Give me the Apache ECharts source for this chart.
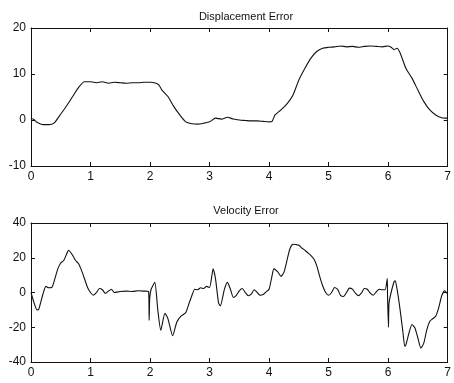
<!DOCTYPE html>
<html>
<head>
    <meta charset="utf-8">
    <title>index</title>
    <script src="https://cdn.jsdelivr.net/npm/echarts@6/dist/echarts.min.js"></script>
    <style>
        html, body { margin: 0; padding: 0; background: #fff; }
        #main { width: 454px; height: 383px; }
    </style>
</head>
<body>
<div id="main"></div>
<script>
    // time axis ticks shared by both plots
    var xTicks = [0, 1, 2, 3, 4, 5, 6, 7];

    // displacement error
    var dispT = [0, 0.05, 0.1, 0.2, 0.3, 0.35, 0.4, 0.5, 0.6, 0.7, 0.8, 0.9, 1.0, 1.1, 1.2, 1.3, 1.4, 1.5,
        1.6, 1.7, 1.8, 1.9, 2.0, 2.1, 2.15, 2.2, 2.3, 2.4, 2.5, 2.6, 2.7, 2.8, 2.9, 3.0, 3.1, 3.2,
        3.3, 3.4, 3.5, 3.6, 3.7, 3.8, 3.9, 4.0, 4.05, 4.1, 4.2, 4.3, 4.4, 4.5, 4.6, 4.7, 4.8, 4.9,
        5.0, 5.1, 5.2, 5.3, 5.4, 5.5, 5.6, 5.7, 5.8, 5.9, 6.0, 6.05, 6.1, 6.15, 6.2, 6.3, 6.4, 6.5,
        6.6, 6.7, 6.8, 6.9, 7.0];
    var dispV = [0.4, 0.1, -0.5, -1.0, -1.0, -0.9, -0.5, 1.3, 3.1, 5.1, 7.1, 8.3, 8.3, 8.1, 8.3, 8.0, 8.2, 8.1,
        8.0, 8.1, 8.1, 8.2, 8.2, 8.0, 7.6, 6.5, 5.1, 2.9, 1.1, -0.4, -0.8, -0.9, -0.7, -0.4, 0.4, 0.2,
        0.6, 0.2, 0.0, -0.1, -0.2, -0.2, -0.3, -0.4, -0.3, 1.1, 2.2, 3.5, 5.4, 8.7, 11.2, 13.4, 14.9, 15.6,
        15.8, 15.9, 16.1, 15.9, 16.0, 15.8, 16.0, 16.1, 16.0, 15.9, 16.1, 15.8, 15.3, 15.6, 14.6, 11.2, 9.1, 6.5,
        4.0, 2.2, 1.1, 0.5, 0.4];

    // velocity error
    var velT = [0, 0.05, 0.1, 0.13, 0.2, 0.25, 0.3, 0.35, 0.4, 0.45, 0.5, 0.55, 0.6, 0.63, 0.7, 0.75,
        0.8, 0.85, 0.9, 0.95, 1.0, 1.05, 1.1, 1.15, 1.2, 1.25, 1.3, 1.35, 1.4, 1.5, 1.6, 1.7, 1.8,
        1.9, 1.975, 1.985, 1.995, 2.02, 2.08, 2.13, 2.18, 2.25, 2.3, 2.38, 2.45, 2.52, 2.6, 2.65,
        2.7, 2.75, 2.8, 2.85, 2.9, 2.95, 3.0, 3.06, 3.1, 3.15, 3.18, 3.25, 3.3, 3.35, 3.4, 3.45,
        3.5, 3.55, 3.6, 3.65, 3.7, 3.75, 3.8, 3.85, 3.9, 3.95, 4.0, 4.05, 4.08, 4.15, 4.2, 4.25,
        4.3, 4.35, 4.4, 4.45, 4.5, 4.55, 4.6, 4.65, 4.7, 4.75, 4.8, 4.85, 4.9, 4.95, 5.0, 5.05,
        5.1, 5.15, 5.2, 5.25, 5.3, 5.35, 5.4, 5.45, 5.5, 5.55, 5.6, 5.65, 5.7, 5.75, 5.8, 5.85,
        5.9, 5.95, 5.985, 5.99, 6.005, 6.015, 6.05, 6.1, 6.12, 6.15, 6.2, 6.25, 6.28, 6.3, 6.35,
        6.4, 6.45, 6.5, 6.55, 6.6, 6.65, 6.7, 6.75, 6.8, 6.85, 6.9, 6.95, 7.0];
    var velV = [0, -5.8, -10, -9.7, -1, 3.5, 2.7, 2.9, 7.8, 13.6, 17, 18.4, 22.3, 24.3, 21.4, 18.4,
        16.5, 12.6, 7.8, 2.9, 0, -1.6, 0, 2.3, 1.6, -0.6, 0.8, 1.9, 0, 0.6, 0.8, 0.6, 1.0,
        0.8, 0.5, -16, -3, 2, 5.8, -10, -21.7, -12, -15, -24.9, -17, -13.6, -11.6, -6.8,
        -2, 1.9, 1.6, 2.7, 2.3, 3.5, 2.9, 13.6, 7.8, -5.8, -7.8, 1.9, 5.8, 1.9, -2.9, -1.6,
        1, 2.3, 0, -1.9, -1, 1.6, 0, -1.6, -1.2, 0.4, 1.9, 9.7, 13.6, 11.7, 9.3, 11.7,
        18.4, 25.2, 27.8, 27.6, 27.2, 25.6, 24.3, 22.9, 21.4, 19.4, 15.5, 9.3, 3.9, 0, -1.6, 0,
        2.9, 1.9, -1.6, -2.3, 0, 2.5, 1.9, -0.4, -1.9, -0.4, 2.3, 1.9, -0.4, -1.6, 0.4, 1.9,
        1.6, 1.6, 8, -2, -20, -6, 0, 6.2, 6.8, 1.9, -9.7, -23.3, -31, -30, -23.3,
        -18.4, -20.4, -26.2, -32, -29, -21.4, -16.5, -15.1, -13.6, -8.7, -1.9, 1, -1];

    var dispTicks = [-10, 0, 10, 20];
    var velTicks = [-40, -20, 0, 20, 40];

    function pairs(t, v) {
        var out = [];
        for (var i = 0; i < t.length; i++) out.push([t[i], v[i]]);
        return out;
    }

    var lineCol = '#111';
    var font = 'Liberation Sans, Arial, sans-serif';

    function xAx(grid, pos, labels) {
        return {
            type: 'value', gridIndex: grid, position: pos,
            min: xTicks[0], max: xTicks[xTicks.length - 1], interval: 1,
            axisLine: { show: true, onZero: false, lineStyle: { color: lineCol, width: 1 } },
            axisTick: { show: true, inside: true, length: 4, lineStyle: { color: lineCol } },
            axisLabel: { show: labels, color: '#111', fontSize: 12, fontFamily: font, margin: 5 },
            splitLine: { show: false }
        };
    }

    function yAx(grid, pos, ticks, labels) {
        return {
            type: 'value', gridIndex: grid, position: pos,
            min: ticks[0], max: ticks[ticks.length - 1], interval: ticks[1] - ticks[0],
            axisLine: { show: true, onZero: false, lineStyle: { color: lineCol, width: 1 } },
            axisTick: { show: true, inside: true, length: 4, lineStyle: { color: lineCol } },
            axisLabel: { show: labels, color: '#111', fontSize: 12, fontFamily: font, margin: 5 },
            splitLine: { show: false }
        };
    }

    var chart = echarts.init(document.getElementById('main'));
    chart.setOption({
        animation: false,
        backgroundColor: '#fff',
        title: [
            { text: 'Displacement Error', left: 241, top: 6, textAlign: 'center',
              textStyle: { fontSize: 11, fontWeight: 'normal', color: '#111', fontFamily: font } },
            { text: 'Velocity Error', left: 241, top: 200, textAlign: 'center',
              textStyle: { fontSize: 11, fontWeight: 'normal', color: '#111', fontFamily: font } }
        ],
        grid: [
            { left: 31, top: 28, width: 421, height: 138 },
            { left: 31, top: 223, width: 421, height: 139 }
        ],
        xAxis: [
            xAx(0, 'bottom', true), xAx(0, 'top', false),
            xAx(1, 'bottom', true), xAx(1, 'top', false)
        ],
        yAxis: [
            yAx(0, 'left', dispTicks, true), yAx(0, 'right', dispTicks, false),
            yAx(1, 'left', velTicks, true), yAx(1, 'right', velTicks, false)
        ],
        series: [
            { type: 'line', xAxisIndex: 0, yAxisIndex: 0, data: pairs(dispT, dispV),
              showSymbol: false, smooth: 0.2, lineStyle: { color: lineCol, width: 1.1 } },
            { type: 'line', xAxisIndex: 2, yAxisIndex: 2, data: pairs(velT, velV),
              showSymbol: false, smooth: 0.2, lineStyle: { color: lineCol, width: 1.1 } }
        ]
    });
</script>
</body>
</html>
